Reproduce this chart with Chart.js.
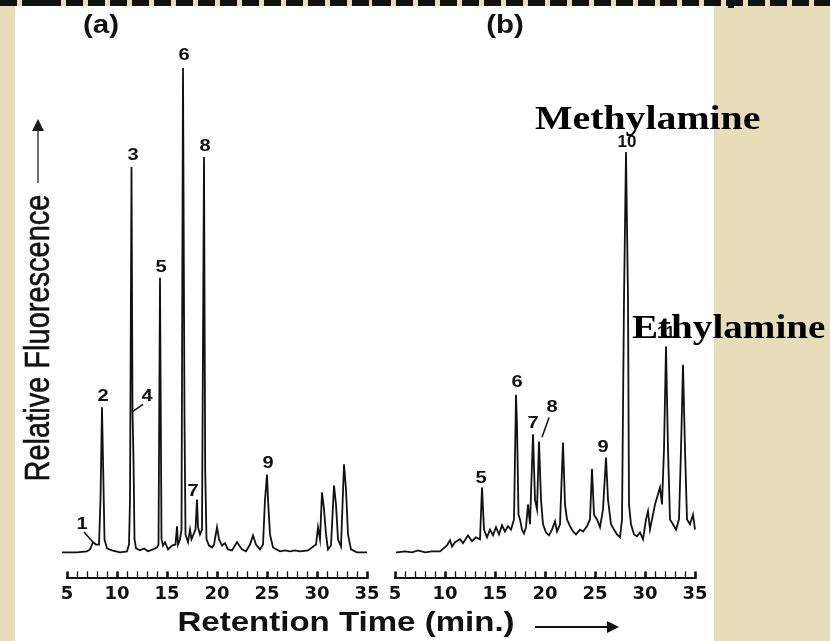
<!DOCTYPE html>
<html>
<head>
<meta charset="utf-8">
<script src="https://cdn.jsdelivr.net/npm/chart.js@4.4.1/dist/chart.umd.min.js"></script>
<style>
  html, body { margin: 0; padding: 0; }
  body { width: 830px; height: 641px; position: relative; overflow: hidden; background: #e7ddb8; }
  .paper { position: absolute; left: 15px; top: 6px; width: 699px; height: 635px; background: #ffffff; }
  .dashes { position: absolute; left: 0; top: 0; width: 830px; height: 6px;
    background: repeating-linear-gradient(90deg, #111 0 17px, transparent 17px 22px); }
  .sq { position: absolute; top: 0; width: 9px; height: 10px; background: #111; }
  .layer { position: absolute; left: 0; top: 0; width: 830px; height: 641px; }
  .anchor { position: absolute; width: 0; height: 0; }
  .txt { position: absolute; left: 0; top: 0; white-space: nowrap; transform-origin: 0 0; line-height: 1; color: #111; }
  .sans { font-family: "Liberation Sans", Arial, sans-serif; }
  .serif { font-family: "Liberation Serif", "Times New Roman", serif; font-weight: bold; color: #000; }
  .vline { position: absolute; background: #6e6e6e; }
  .hline { position: absolute; background: #111; }
</style>
</head>
<body>
<div class="dashes"></div>
<div class="sq" style="left:37px"></div>
<div class="sq" style="left:177px"></div>
<div class="sq" style="left:372px"></div>
<div class="sq" style="left:553px"></div>
<div class="sq" style="left:728px;height:8px;width:6px"></div>
<div class="paper"></div>
<div class="layer"><canvas id="chartA" width="830" height="641"></canvas></div>
<div class="layer"><canvas id="chartB" width="830" height="641"></canvas></div>

<!-- panel letters -->
<div class="anchor" style="left:101px;top:24px"><div class="txt sans" style="font-size:25px;font-weight:bold;transform:scaleX(1.18) translate(-50%,-50%)">(a)</div></div>
<div class="anchor" style="left:505px;top:24px"><div class="txt sans" style="font-size:25px;font-weight:bold;transform:scaleX(1.18) translate(-50%,-50%)">(b)</div></div>

<!-- y axis title with arrow -->
<div class="anchor" style="left:38px;top:338px"><div class="txt sans" style="font-size:29px;-webkit-text-stroke:0.5px #111;transform:scaleX(1.18) rotate(-90deg) translate(-50%,-50%)">Relative Fluorescence</div></div>
<div class="vline" style="left:37px;top:129px;width:2px;height:54px"></div>
<div style="position:absolute;left:32px;top:119px;width:0;height:0;border-left:6px solid transparent;border-right:6px solid transparent;border-bottom:12px solid #1a1a1a"></div>

<!-- x axis title with arrow -->
<div class="anchor" style="left:346px;top:622px"><div class="txt sans" style="font-size:28px;font-weight:bold;transform:scaleX(1.18) translate(-50%,-50%)">Retention Time (min.)</div></div>
<div class="hline" style="left:535px;top:626px;width:74px;height:2px"></div>
<div style="position:absolute;left:607px;top:621px;width:0;height:0;border-top:6px solid transparent;border-bottom:6px solid transparent;border-left:12px solid #111"></div>

<!-- compound names -->
<div class="anchor" style="left:535px;top:118px"><div class="txt serif" style="font-size:34px;transform:scaleX(1.17) translate(0,-50%)">Methylamine</div></div>
<div class="anchor" style="left:632px;top:327px"><div class="txt serif" style="font-size:34px;transform:scaleX(1.15) translate(0,-50%)">Ethylamine</div></div>

<script>
// ---------- DATA ----------
// Panel (a): standards chromatogram. Retention time (min) / relative fluorescence (peak 6 = 100)
const timeA = [4.5, 5.0, 6.0, 7.0, 7.3, 7.6, 7.9, 8.2, 8.35, 8.5, 8.62, 8.75, 9.0, 9.5, 10.3, 11.0, 11.2, 11.3, 11.45, 11.55, 11.65, 11.75, 11.9, 12.3, 12.7, 13.1, 13.6, 14.0, 14.15, 14.3, 14.45, 14.6, 14.8, 15.1, 15.5, 15.85, 16.0, 16.1, 16.3, 16.45, 16.6, 16.75, 16.85, 17.1, 17.3, 17.45, 17.85, 18.0, 18.1, 18.3, 18.5, 18.7, 18.82, 18.95, 19.2, 19.5, 19.7, 20.0, 20.2, 20.5, 20.8, 21.1, 21.5, 22.0, 22.5, 22.9, 23.3, 23.6, 23.9, 24.3, 24.6, 24.8, 25.0, 25.1, 25.3, 25.6, 26.3, 26.8, 27.3, 27.8, 28.3, 29.1, 29.9, 30.1, 30.3, 30.5, 30.7, 30.9, 31.1, 31.4, 31.7, 31.9, 32.1, 32.4, 32.7, 32.9, 33.1, 33.4, 34.0, 35.0];
const signalA = [-0.2, -0.2, -0.2, 0, 0.4, 1.9, 1.4, 1.4, 10.7, 29.8, 16.9, 2.5, 0.6, 0.2, -0.2, 0, 1.4, 10.7, 79.5, 28.9, 19.0, 2.5, 0.6, 0.2, 0.6, 0, 0.4, 0.8, 1.4, 56.6, 2.5, 1.2, 1.9, 0.4, 1.2, 1.4, 5.2, 1.4, 2.5, 4.5, 100, 27.3, 3.5, 1.9, 4.5, 2.5, 4.5, 10.7, 5.0, 3.5, 4.5, 81.6, 16.9, 2.5, 1.2, 0.8, 1.4, 5.0, 2.5, 1.2, 1.7, 0.4, 0.2, 1.9, 0.4, 0, 1.4, 3.3, 1.4, 0.4, 1.4, 10.7, 15.9, 10.7, 3.5, 0.8, 0, 0.2, 0, 0.2, 0, 0.2, 1.4, 5.0, 2.5, 12.2, 8.7, 3.5, 0.4, 1.2, 13.6, 9.7, 2.5, 1.0, 18.0, 12.8, 3.5, 0.4, -0.2, -0.2];

// Panel (b): sample chromatogram
const timeB = [5.1, 5.2, 6.0, 6.7, 7.3, 8.0, 8.7, 9.5, 10.2, 10.5, 10.7, 11.0, 11.5, 11.8, 12.3, 12.7, 13.1, 13.5, 13.7, 13.9, 14.2, 14.5, 14.8, 15.1, 15.4, 15.7, 16.0, 16.3, 16.6, 16.9, 17.1, 17.2, 17.35, 17.5, 17.7, 17.9, 18.1, 18.3, 18.5, 18.8, 19.0, 19.2, 19.4, 19.6, 19.8, 20.1, 20.4, 20.7, 21.0, 21.2, 21.5, 21.8, 22.0, 22.2, 22.5, 22.8, 23.1, 23.5, 23.8, 24.2, 24.5, 24.7, 24.9, 25.2, 25.5, 25.8, 26.1, 26.3, 26.6, 26.9, 27.2, 27.5, 27.7, 27.9, 28.1, 28.3, 28.4, 28.6, 28.9, 29.2, 29.5, 29.8, 30.1, 30.3, 30.5, 30.7, 31.0, 31.3, 31.5, 31.7, 31.9, 32.1, 32.3, 32.5, 32.8, 33.1, 33.4, 33.6, 33.8, 34.0, 34.2, 34.5, 34.8, 35.0, 35.3, 35.7];
const signalB = [-0.2, -0.2, 0, -0.2, 0.2, -0.2, 0, 0, 1.2, 2.3, 1.0, 1.9, 2.5, 1.7, 3.3, 2.1, 2.9, 2.5, 13.2, 4.5, 2.9, 4.5, 3.3, 5.0, 3.5, 5.4, 4.1, 5.2, 4.5, 6.6, 32.4, 26.2, 7.6, 6.6, 4.5, 3.7, 5.0, 9.7, 5.6, 24.2, 10.7, 8.7, 22.7, 10.7, 5.6, 3.9, 3.3, 4.5, 6.2, 4.1, 5.6, 22.5, 9.7, 6.6, 5.2, 4.1, 3.5, 4.5, 4.1, 5.2, 6.6, 17.1, 7.6, 6.6, 5.0, 8.7, 19.4, 10.7, 5.6, 4.5, 3.5, 2.9, 6.6, 52.1, 82.6, 52.1, 9.7, 5.6, 3.5, 3.1, 3.9, 2.5, 6.6, 8.3, 4.5, 6.6, 9.7, 11.8, 13.2, 9.7, 21.1, 42.4, 21.1, 6.6, 5.6, 4.5, 6.6, 21.1, 38.6, 21.1, 6.6, 5.6, 7.6, 4.5, 3.5, 1.4];

// Axis
const timeMin = 5, timeMax = 35, majorStep = 5;
const signalMin = -5.6, signalMax = 105.8;

// Peak numbers (label text, label time, label signal) and leader lines
const peakNamesA = ['1', '2', '3', '4', '5', '6', '7', '8', '9'];
const peakLabelTimeA = [6.5, 8.6, 11.6, 13.0, 14.4, 16.7, 17.6, 18.8, 25.1];
const peakLabelSignalA = [5.6, 32.0, 82.0, 32.0, 58.7, 102.7, 12.4, 83.9, 18.2];
const leadersA = [[6.7, 4.0, 7.6, 1.9], [12.6, 30.4, 11.55, 28.9]];

const peakNamesB = ['5', '6', '7', '8', '9', '10', '11'];
const peakLabelTimeB = [13.6, 17.2, 18.8, 20.7, 25.8, 28.2, 32.1];
const peakLabelSignalB = [15.1, 34.9, 26.4, 29.8, 21.5, 84.7, 45.2];
const leadersB = [[20.4, 27.7, 19.7, 23.6]];

// ---------- CHARTS ----------
function toPoints(ts, vs) { return ts.map((t, i) => ({ x: t, y: vs[i] })); }

const peakLabelPlugin = {
  id: 'peakLabels',
  afterDatasetsDraw(chart, args, opts) {
    const ctx = chart.ctx, xs = chart.scales.x, ys = chart.scales.y;
    ctx.save();
    ctx.fillStyle = '#111';
    ctx.strokeStyle = '#111';
    ctx.lineWidth = 1.5;
    opts.leaders.forEach(l => {
      ctx.beginPath();
      ctx.moveTo(xs.getPixelForValue(l[0]), ys.getPixelForValue(l[1]));
      ctx.lineTo(xs.getPixelForValue(l[2]), ys.getPixelForValue(l[3]));
      ctx.stroke();
    });
    ctx.font = 'bold 17px "Liberation Sans", Arial, sans-serif';
    ctx.textAlign = 'center';
    ctx.textBaseline = 'middle';
    opts.names.forEach((n, i) => {
      const x = xs.getPixelForValue(opts.times[i]);
      const y = ys.getPixelForValue(opts.signals[i]);
      ctx.save();
      ctx.translate(x, y);
      ctx.scale(n.length > 1 ? 1.0 : 1.18, 1);
      ctx.fillText(n, 0, 0);
      ctx.restore();
    });
    ctx.restore();
  }
};

function makeChart(id, ts, vs, padLeft, padRight, names, times, signals, leaders) {
  return new Chart(document.getElementById(id), {
    type: 'line',
    data: {
      datasets: [{
        data: toPoints(ts, vs),
        borderColor: '#111',
        borderWidth: 1.8,
        pointRadius: 0,
        tension: 0,
        fill: false,
        clip: false
      }]
    },
    options: {
      responsive: false,
      devicePixelRatio: 1,
      animation: false,
      events: [],
      layout: { padding: { left: padLeft, right: padRight, top: 40, bottom: 24 } },
      plugins: {
        legend: { display: false },
        tooltip: { enabled: false },
        peakLabels: { names, times, signals, leaders }
      },
      scales: {
        x: {
          type: 'linear',
          min: timeMin,
          max: timeMax,
          border: { display: true, color: '#111', width: 2 },
          grid: {
            drawOnChartArea: false,
            drawTicks: true,
            tickLength: -7,
            tickColor: '#111',
            tickWidth: c => (c.tick && c.tick.value % majorStep === 0) ? 2.6 : 1.3
          },
          ticks: {
            stepSize: 1,
            autoSkip: false,
            maxRotation: 0,
            padding: 12,
            color: '#111',
            font: { family: 'DejaVu Sans', weight: 'bold', size: 18 },
            callback: v => (v % majorStep === 0) ? String(v) : ''
          }
        },
        y: {
          type: 'linear',
          display: false,
          min: signalMin,
          max: signalMax
        }
      }
    },
    plugins: [peakLabelPlugin]
  });
}

makeChart('chartA', timeA, signalA, 67, 463, peakNamesA, peakLabelTimeA, peakLabelSignalA, leadersA);
makeChart('chartB', timeB, signalB, 395, 135, peakNamesB, peakLabelTimeB, peakLabelSignalB, leadersB);
</script>
</body>
</html>
